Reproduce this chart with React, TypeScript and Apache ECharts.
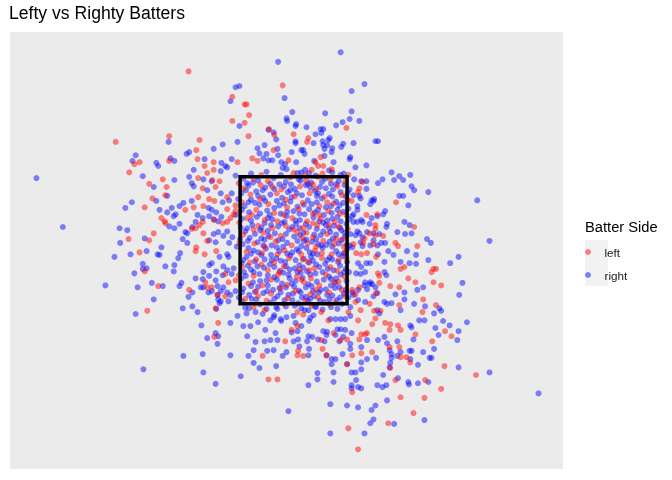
import React, { useEffect, useRef } from "react";
import * as echarts from "echarts";

// pitch locations in feet: [plate_x, plate_z]
const batterSides = ["left", "right"];
const zoneX = [-0.83, 0.83, 0.83, -0.83, -0.83];
const zoneZ = [3.5, 3.5, 1.5, 1.5, 3.5];

const leftPitches = [
  [-2.76, 4.05], [-2.47, 3.7], [-2.39, 3.73], [-2.55, 3.57], [-2.24, 3.39], [-2.31, 3.02], [-2.56, 2.52], [-2.24, 2.5],
  [-2.39, 2.31], [-2.31, 2.01], [-2.27, 1.39],
  [-1.63, 5.16], [-0.17, 4.94], [-0.95, 4.76], [-0.76, 4.64], [-0.73, 4.64], [-0.69, 4.47], [-0.95, 4.38], [-0.76, 4.35],
  [-0.38, 4.25], [-0.3, 4.16], [-0.7, 4.14], [-1.93, 4.14], [-1.46, 4.08], [-1.51, 3.92], [-1.93, 3.75], [-1.49, 3.78],
  [-1.24, 3.73], [-0.87, 3.73], [-0.64, 3.79], [-0.56, 3.75], [-0.31, 3.92], [-0.08, 3.76], [-1.38, 3.67], [-1.24, 3.61],
  [-1.34, 3.56], [-2.03, 3.46], [-1.97, 3.34], [-1.99, 3.21], [-1.48, 3.48], [-1.41, 3.32], [-1.26, 3.45], [-1.15, 3.43],
  [-1.21, 3.34], [-2.19, 3.16], [-1.48, 3.18], [-1.31, 3.15], [-1.23, 3.12], [-1.03, 3.18], [-1.4, 3.04], [-1.55, 3.02],
  [-1.68, 2.98], [-0.9, 3.05], [-1.03, 2.99], [-2.05, 2.85], [-2.0, 2.8], [-1.99, 2.77], [-1.58, 2.68], [-1.52, 2.69],
  [-1.46, 2.74], [-1.41, 2.79], [-1.4, 2.61], [-1.34, 2.49], [-1.51, 2.39], [-1.23, 2.82], [-1.1, 2.77], [-1.03, 2.79],
  [-0.98, 2.85], [-0.93, 2.91], [-0.9, 2.96], [-2.17, 2.61],
  [0.82, 4.27], [0.0, 4.17], [0.23, 4.11], [0.21, 4.05], [0.42, 3.81], [0.34, 3.73], [0.28, 3.61], [0.59, 3.62],
  [0.46, 3.67], [0.38, 3.67], [0.85, 3.53], [0.18, 3.53], [0.38, 3.5], [1.07, 3.42], [1.02, 3.32], [1.0, 3.26],
  [0.9, 3.12], [1.13, 2.9], [1.3, 2.91], [1.27, 2.74], [1.27, 2.68], [1.59, 3.1], [1.87, 2.71], [1.92, 2.41],
  [1.58, 2.46], [1.62, 2.41], [1.1, 2.53], [1.18, 2.61], [1.27, 2.58], [1.39, 2.57], [1.08, 2.46], [1.24, 2.44], [0.93, 2.44],
  [-2.1, 1.78], [-1.62, 1.72], [-1.37, 1.84], [-1.34, 1.76], [-1.27, 1.76], [-1.06, 1.97], [-1.01, 1.84], [-0.9, 1.87],
  [-1.38, 2.28], [-1.52, 2.33], [-1.2, 2.33], [-1.18, 1.64], [-1.21, 1.43], [-1.17, 1.2], [-1.23, 0.98], [-1.06, 1.62],
  [-0.48, 0.68], [-0.39, 0.31], [-0.25, 0.31], [-0.13, 0.91], [-0.45, 1.4],
  [1.0, -0.79], [0.85, -0.46], [1.47, -0.38], [1.86, -0.22], [2.03, 0.02], [1.66, 0.03], [2.04, 0.3], [0.91, 0.11],
  [1.58, 0.3], [1.5, 0.49], [1.66, 0.66], [1.75, 0.66], [1.81, 0.58], [0.91, 0.69], [0.83, 0.55], [0.06, 0.69],
  [0.15, 0.68], [0.07, 0.76], [0.45, 0.79], [0.51, 0.69], [1.05, 0.72], [1.22, 0.74], [1.49, 0.82], [1.64, 0.82],
  [1.49, 1.09], [1.66, 1.09], [1.62, 1.16], [1.89, 1.02], [0.73, 0.93], [0.83, 0.94], [1.02, 0.94], [1.05, 1.02],
  [1.11, 1.02], [1.14, 1.04], [1.22, 1.18], [1.27, 1.27], [1.42, 1.2], [1.5, 1.18], [1.64, 1.48], [2.0, 1.37],
  [2.01, 1.57], [1.64, 1.76], [1.78, 1.9], [1.89, 1.84], [1.66, 2.05], [1.72, 2.08], [1.5, 1.78], [1.33, 1.94],
  [1.33, 1.83], [1.18, 1.5], [1.25, 1.39], [1.35, 1.39], [1.28, 1.67], [1.31, 1.98], [0.97, 2.3], [1.05, 2.28],
  [1.14, 2.3], [1.28, 2.24], [0.96, 1.65], [1.02, 1.76], [0.91, 1.72], [0.96, 1.53], [1.04, 1.4], [1.0, 1.24],
  [0.06, 1.37], [0.43, 1.37], [0.54, 1.24], [0.43, 0.93], [0.62, 1.04], [0.06, 1.15], [0.15, 1.33], [0.85, 1.37], [-0.03, 1.09],
  [2.17, 2.05], [2.21, 2.05], [2.14, 2.0], [2.17, 1.84], [2.29, 1.79], [2.21, 1.48], [2.35, 1.07], [2.45, 0.99],
  [2.15, 0.91], [2.34, 0.52], [2.83, 0.38], [2.29, 0.16],
  // inside the zone
  [-0.62, 3.47], [-0.4, 3.43], [-0.05, 3.49], [0.2, 3.44], [0.57, 3.46], [0.8, 3.42],
  [-0.78, 3.32], [-0.51, 3.37], [-0.19, 3.3], [0.1, 3.35], [0.35, 3.31], [0.68, 3.35],
  [-0.67, 3.22], [-0.26, 3.24], [0.02, 3.19], [0.25, 3.24], [0.48, 3.19], [0.75, 3.21],
  [-0.8, 3.1], [-0.39, 3.07], [-0.1, 3.02], [0.14, 3.09], [0.4, 3.04], [0.62, 3.08],
  [-0.58, 2.98], [-0.3, 2.93], [0.08, 2.99], [0.3, 2.92], [0.54, 2.96], [0.82, 2.9],
  [-0.72, 2.85], [-0.45, 2.82], [-0.02, 2.85], [0.21, 2.8], [0.42, 2.84], [0.64, 2.79],
  [-0.55, 2.73], [-0.33, 2.69], [-0.12, 2.73], [0.15, 2.7], [0.37, 2.74], [0.7, 2.71],
  [-0.78, 2.59], [-0.47, 2.62], [-0.2, 2.57], [0.06, 2.63], [0.3, 2.55], [0.52, 2.6], [0.76, 2.52],
  [-0.61, 2.45], [-0.28, 2.48], [-0.03, 2.42], [0.22, 2.45], [0.46, 2.49], [0.63, 2.44],
  [-0.73, 2.32], [-0.49, 2.3], [-0.14, 2.34], [0.12, 2.28], [0.33, 2.34], [0.59, 2.28], [0.8, 2.31],
  [-0.58, 2.2], [-0.3, 2.15], [-0.07, 2.22], [0.22, 2.16], [0.44, 2.22], [0.7, 2.19],
  [-0.8, 2.08], [-0.4, 2.03], [-0.15, 2.09], [0.09, 2.04], [0.32, 2.06], [0.57, 2.08],
  [-0.62, 1.94], [-0.24, 1.96], [0.05, 1.93], [0.27, 1.9], [0.5, 1.96], [0.79, 1.93],
  [-0.7, 1.82], [-0.48, 1.79], [-0.1, 1.8], [0.16, 1.84], [0.4, 1.79], [0.63, 1.84],
  [-0.58, 1.7], [-0.35, 1.66], [0.03, 1.7], [0.26, 1.65], [0.55, 1.68], [0.8, 1.62],
  [-0.75, 1.58], [-0.42, 1.55], [-0.09, 1.59], [0.18, 1.54], [0.38, 1.6], [0.65, 1.52],
  [-0.5, 3.53], [0.0, 3.56], [0.45, 3.55], [-0.85, 3.4], [-0.33, 3.34], [0.3, 3.38], [0.84, 3.14], [-0.52, 3.14],
  [-0.12, 3.14], [0.52, 3.1], [-0.65, 2.9], [-0.15, 2.9], [0.4, 2.9], [0.72, 2.92], [-0.84, 2.78], [-0.25, 2.8],
  [0.3, 2.77], [0.55, 2.74], [-0.62, 2.67], [0.0, 2.67], [0.2, 2.62], [0.84, 2.68], [-0.36, 2.55], [0.14, 2.54],
  [0.66, 2.52], [-0.84, 2.46], [-0.45, 2.4], [0.35, 2.4], [0.78, 2.4], [-0.25, 2.28], [0.44, 2.3], [-0.68, 2.15],
  [0.14, 2.2], [0.82, 2.22], [-0.5, 2.12], [-0.22, 2.0], [0.24, 2.03], [0.68, 2.02], [-0.85, 1.95], [-0.35, 1.88],
  [0.12, 1.88], [0.7, 1.85], [-0.55, 1.62], [-0.2, 1.75], [0.35, 1.72], [0.75, 1.72], [-0.15, 1.5], [0.28, 1.47],
  [0.55, 1.5], [-0.62, 1.45],
];

const rightPitches = [
  [-2.45, 3.84], [-2.5, 3.75], [-2.34, 3.51], [-3.99, 3.48], [-2.51, 3.1], [-2.61, 3.01], [-3.58, 2.71], [-2.7, 2.69],
  [-2.58, 2.66], [-2.69, 2.46], [-2.31, 2.53],
  [-2.78, 2.24], [-2.53, 2.28], [-2.28, 2.33], [-2.34, 2.13], [-2.34, 2.05], [-2.28, 2.06], [-2.47, 1.98], [-2.92, 1.79],
  [-2.42, 1.76], [-2.45, 1.34], [-2.33, 0.47],
  [-0.24, 5.31], [-0.9, 4.91], [-0.84, 4.93], [-0.14, 4.74], [-0.98, 4.69], [-0.11, 4.42], [-0.1, 4.38], [-0.84, 4.3],
  [-0.39, 4.24], [-0.31, 4.2], [-0.27, 4.09], [-0.87, 4.05], [-1.94, 4.05], [-1.1, 4.01], [-1.24, 3.94], [-1.66, 3.86],
  [-1.62, 3.89], [-1.91, 3.79], [-1.85, 3.75], [-2.13, 3.72], [-2.1, 3.67], [-1.38, 3.78], [-1.12, 3.72], [-0.96, 3.78],
  [-0.45, 4.0], [-0.56, 3.95], [-0.53, 3.87], [-0.47, 3.79], [-0.42, 3.86], [-0.39, 3.76], [-0.33, 3.76], [-0.25, 3.94],
  [-0.24, 3.84], [-0.19, 3.73], [-0.13, 3.7], [-0.11, 3.62], [-0.17, 3.64], [-1.55, 3.61], [-1.13, 3.59], [-1.06, 3.67],
  [-1.03, 3.65], [-1.85, 3.45], [-2.17, 3.34], [-2.13, 3.12], [-1.96, 3.2], [-1.62, 3.5], [-1.55, 3.35], [-1.58, 3.4],
  [-1.4, 3.46], [-1.34, 3.29], [-1.27, 3.43], [-1.13, 3.24], [-1.1, 3.1], [-0.96, 3.24], [-1.0, 3.13], [-1.58, 3.12],
  [-1.71, 3.09], [-1.77, 3.04], [-1.89, 3.01], [-2.08, 2.98], [-1.32, 3.01], [-1.27, 2.98], [-1.2, 2.94], [-1.96, 2.94],
  [-1.83, 2.91], [-1.86, 2.88], [-1.93, 2.72], [-1.85, 2.69], [-1.77, 2.76], [-1.68, 2.63], [-1.65, 2.61], [-1.72, 2.52],
  [-1.65, 2.46], [-1.52, 2.79], [-1.57, 2.71], [-1.49, 2.9], [-1.41, 2.85], [-1.31, 2.88], [-1.24, 2.83], [-1.17, 2.8],
  [-1.12, 2.87], [-1.24, 2.6], [-1.17, 2.63], [-1.09, 2.57], [-1.03, 2.64], [-0.95, 2.55], [-1.0, 2.46], [-1.21, 2.47],
  [-1.31, 2.5], [-2.05, 2.39],
  [0.73, 5.46], [1.1, 4.96], [0.9, 4.85], [0.9, 4.53], [1.02, 4.38], [0.87, 4.41], [0.76, 4.36], [0.66, 4.31],
  [0.49, 4.5], [-0.02, 4.52], [0.03, 4.3], [0.04, 4.33], [0.2, 4.28], [0.42, 4.25], [0.46, 4.25], [0.43, 4.19],
  [0.34, 4.17], [0.03, 4.06], [0.03, 4.03], [0.31, 4.03], [0.45, 4.06], [0.46, 4.0], [0.52, 4.0], [0.56, 4.11],
  [0.54, 4.08], [0.93, 4.03], [0.77, 4.02], [0.74, 3.97], [0.6, 3.95], [0.59, 3.89], [0.48, 3.94], [1.27, 4.06],
  [1.31, 4.06], [0.12, 3.92], [0.15, 3.92], [0.17, 3.86], [-0.03, 3.89], [0.04, 3.73], [0.32, 3.75], [0.48, 3.83],
  [0.62, 3.73], [0.88, 3.81], [0.87, 3.78], [0.96, 3.65], [1.13, 3.68], [0.18, 3.61], [0.24, 3.56], [0.06, 3.56],
  [0.6, 3.57], [0.73, 3.53], [0.94, 3.46], [1.05, 3.43], [1.13, 3.43], [1.13, 3.31], [1.02, 3.2], [1.04, 3.16],
  [0.93, 3.21], [1.21, 3.13], [1.24, 3.12], [1.25, 3.15], [1.19, 3.07], [0.99, 3.04], [0.99, 2.98], [0.93, 2.91],
  [0.91, 2.88], [1.07, 2.79], [1.05, 2.82], [0.99, 2.79], [0.93, 2.79], [1.21, 2.85], [1.18, 2.76], [1.3, 2.88],
  [1.42, 2.96], [1.39, 2.91], [1.45, 2.76], [1.44, 2.71], [1.31, 3.4], [1.38, 3.46], [1.52, 3.57], [1.56, 3.45],
  [1.64, 3.51], [1.7, 3.45], [1.81, 3.53], [1.83, 3.35], [1.87, 3.29], [1.64, 3.2], [1.7, 3.2], [1.78, 3.05],
  [2.09, 3.26], [1.72, 2.79], [1.8, 2.74], [1.61, 2.63], [1.73, 2.6], [1.83, 2.61], [2.07, 2.52], [1.02, 2.61],
  [0.99, 2.64], [0.96, 2.58], [1.07, 2.55], [1.14, 2.63], [1.24, 2.61], [1.33, 2.6], [1.24, 2.5], [1.36, 2.46],
  [1.42, 2.46], [1.3, 2.42], [1.19, 2.42], [1.04, 2.47], [1.07, 2.41], [0.87, 2.42], [0.91, 2.39],
  [2.85, 3.13], [3.04, 2.49], [2.13, 2.46],
  [-1.99, 2.09], [-1.85, 2.11], [-1.86, 2.01], [-1.79, 2.22], [-1.76, 2.3], [-2.11, 2.28], [-2.08, 2.27], [-2.2, 1.83],
  [-2.03, 1.78], [-1.77, 1.78], [-1.74, 1.83], [-2.17, 1.57], [-1.72, 1.43], [-1.63, 1.61], [-1.57, 1.68], [-1.57, 1.46],
  [-1.49, 1.37], [-1.52, 1.9], [-1.41, 1.89], [-1.4, 2.0], [-1.31, 1.94], [-1.27, 2.14], [-1.31, 2.11], [-1.21, 1.87],
  [-1.2, 2.01], [-1.15, 2.24], [-1.09, 2.09], [-1.1, 1.95], [-1.03, 2.03], [-0.96, 1.97], [-0.93, 2.06], [-1.01, 2.24],
  [-1.03, 2.28], [-1.44, 1.76], [-1.4, 1.76], [-1.32, 1.68], [-1.27, 1.7], [-1.18, 1.78], [-1.13, 1.7], [-1.09, 1.76],
  [-1.03, 1.68], [-0.98, 1.64], [-0.9, 1.7], [-1.18, 1.64], [-1.17, 1.57], [-1.13, 1.54], [-1.15, 1.51], [-1.01, 1.54],
  [-1.2, 1.42], [-1.43, 1.16], [-1.34, 0.96], [-1.21, 1.04], [-1.17, 0.99], [-1.18, 0.87], [-0.98, 1.2], [-0.87, 1.31],
  [-0.78, 1.15], [-0.67, 1.15], [-0.72, 0.99], [-0.59, 0.9], [-0.62, 0.77], [-0.7, 0.68], [-0.62, 0.57], [-0.53, 0.49],
  [-0.98, 0.69], [-0.82, 0.36], [-1.21, 0.24], [-1.4, 0.42], [-1.41, 0.71], [-1.71, 0.68], [-0.73, 1.35], [-0.69, 1.43],
  [-0.59, 1.37], [-0.55, 1.21], [-0.48, 1.34], [-0.44, 1.09], [-0.45, 0.91], [-0.36, 0.93], [-0.25, 0.93], [-0.27, 0.52],
  [-0.28, 1.04], [-0.41, 0.76], [-0.31, 0.77], [-0.17, 0.68], [-0.11, 0.74], [-0.08, -0.19], [-0.36, 1.24], [-0.31, 1.29],
  [-0.3, 1.32], [-0.25, 1.42], [-0.2, 1.26], [-0.19, 1.23], [-0.11, 1.29],
  [0.57, -0.54], [1.1, -0.54], [0.57, -0.08], [0.83, -0.1], [1.0, -0.13], [1.21, -0.17], [1.27, -0.1], [1.24, -0.32],
  [1.19, -0.38], [1.56, -0.39], [2.03, -0.33], [1.45, -0.02], [0.23, 0.22], [0.9, 0.22], [0.9, 0.17], [1.05, 0.17],
  [1.0, 0.19], [1.3, 0.22], [1.38, 0.19], [1.44, 0.22], [1.62, 0.33], [1.78, 0.27], [1.79, 0.23], [1.93, 0.25],
  [2.09, 0.27], [0.37, 0.41], [0.37, 0.31], [0.62, 0.42], [0.62, 0.27], [0.9, 0.42], [0.96, 0.42], [0.97, 0.3],
  [1.05, 0.47], [1.39, 0.38], [1.49, 0.5], [1.5, 0.57], [1.52, 0.71], [1.52, 0.65], [1.61, 0.68], [1.66, 0.74],
  [1.8, 0.76], [1.81, 0.63], [1.93, 0.54], [2.01, 0.74], [2.11, 0.65], [0.83, 0.55], [1.05, 0.58], [1.14, 0.63],
  [1.28, 0.65], [0.76, 0.71], [0.59, 0.63], [0.59, 0.55], [0.65, 0.63], [0.51, 0.69], [0.23, 0.69], [0.24, 0.79],
  [0.09, 0.83], [0.88, 0.79], [0.88, 0.87], [1.05, 0.82], [1.14, 0.93], [1.31, 0.93], [1.41, 0.98], [1.45, 0.88],
  [1.49, 0.77], [1.61, 0.91], [1.86, 0.94], [1.83, 0.76], [1.81, 1.16], [1.83, 1.13], [1.87, 1.5], [1.95, 1.24],
  [2.03, 1.24], [2.04, 1.46], [2.09, 2.19], [1.66, 1.4], [1.72, 1.57], [1.58, 1.65], [1.72, 1.68], [1.92, 1.72],
  [2.01, 1.76], [1.41, 1.53], [1.52, 1.51], [1.45, 1.5], [1.33, 1.35], [1.3, 1.4], [1.41, 2.16], [1.55, 2.27],
  [1.66, 2.16], [1.8, 2.14], [1.9, 2.13], [1.9, 2.27], [1.76, 2.33], [1.47, 2.33], [1.31, 2.28], [1.41, 2.0],
  [1.44, 1.95], [1.19, 2.14], [1.13, 2.14], [1.0, 2.14], [1.05, 2.08], [1.22, 1.81], [1.3, 1.67], [1.1, 1.79],
  [1.11, 1.84], [1.19, 1.84], [1.27, 1.76], [1.0, 1.72], [0.91, 1.68], [0.93, 1.64], [0.97, 1.98], [1.04, 1.97],
  [1.11, 2.0], [1.18, 1.81], [1.14, 1.73], [1.24, 1.62], [1.0, 1.56], [1.11, 1.53],
  [0.17, 1.4], [0.23, 1.4], [0.35, 1.45], [0.26, 1.28], [0.0, 1.31], [0.03, 1.2], [0.12, 1.15], [0.24, 1.23],
  [0.31, 1.32], [0.57, 1.26], [0.65, 1.26], [0.73, 1.26], [0.8, 1.26], [0.88, 1.31], [0.52, 1.06], [0.68, 1.1],
  [0.46, 1.07], [0.51, 1.01], [0.65, 1.01], [0.73, 1.1], [0.8, 1.09], [0.9, 1.04], [0.77, 0.98], [0.71, 0.91],
  [0.48, 0.91], [0.38, 0.94], [0.29, 0.98], [0.23, 0.99], [0.21, 0.91], [0.07, 0.94], [0.0, 0.91], [-0.03, 1.05], [0.06, 1.07],
  [2.56, 2.24], [2.43, 2.14], [2.62, 1.83], [2.57, 1.64], [2.26, 1.43], [2.29, 1.39], [2.18, 1.35], [2.69, 1.21],
  [2.32, 1.23], [2.42, 1.16], [2.2, 1.12], [2.25, 1.01], [2.56, 1.07], [2.54, 0.93], [2.18, 0.79], [2.14, 0.65],
  [2.56, 0.5], [3.04, 0.42], [3.8, 0.09],
  // inside the zone
  [-0.78, 3.47], [-0.55, 3.44], [-0.31, 3.48], [-0.12, 3.42], [0.08, 3.46], [0.27, 3.41], [0.49, 3.47], [0.7, 3.43],
  [-0.7, 3.36], [-0.44, 3.33], [-0.22, 3.38], [0.02, 3.31], [0.19, 3.37], [0.41, 3.34], [0.61, 3.3], [0.79, 3.37],
  [-0.81, 3.24], [-0.58, 3.27], [-0.36, 3.22], [-0.09, 3.26], [0.13, 3.21], [0.33, 3.28], [0.55, 3.23], [0.73, 3.26],
  [-0.66, 3.14], [-0.47, 3.17], [-0.26, 3.12], [-0.03, 3.18], [0.22, 3.13], [0.44, 3.16], [0.66, 3.11], [0.81, 3.19],
  [-0.76, 3.04], [-0.53, 3.06], [-0.3, 3.01], [-0.15, 3.08], [0.06, 3.03], [0.28, 3.07], [0.5, 3.02], [0.71, 3.05],
  [-0.69, 2.94], [-0.41, 2.97], [-0.2, 2.92], [0.0, 2.96], [0.17, 2.91], [0.38, 2.98], [0.59, 2.93], [0.77, 2.95],
  [-0.8, 2.84], [-0.57, 2.87], [-0.33, 2.83], [-0.11, 2.88], [0.1, 2.82], [0.31, 2.86], [0.52, 2.81], [0.68, 2.87],
  [-0.64, 2.74], [-0.45, 2.77], [-0.24, 2.72], [0.04, 2.76], [0.24, 2.71], [0.46, 2.78], [0.63, 2.73], [0.82, 2.76],
  [-0.75, 2.64], [-0.52, 2.66], [-0.29, 2.61], [-0.07, 2.67], [0.15, 2.62], [0.36, 2.68], [0.57, 2.63], [0.74, 2.66],
  [-0.68, 2.54], [-0.39, 2.57], [-0.17, 2.52], [0.01, 2.56], [0.2, 2.51], [0.42, 2.58], [0.61, 2.53], [0.8, 2.56],
  [-0.79, 2.44], [-0.56, 2.47], [-0.34, 2.42], [-0.1, 2.46], [0.12, 2.41], [0.29, 2.48], [0.51, 2.43], [0.7, 2.45],
  [-0.62, 2.34], [-0.43, 2.37], [-0.22, 2.33], [0.05, 2.36], [0.25, 2.31], [0.45, 2.38], [0.66, 2.33], [0.83, 2.36],
  [-0.73, 2.24], [-0.5, 2.27], [-0.27, 2.22], [-0.05, 2.26], [0.16, 2.21], [0.37, 2.28], [0.56, 2.23], [0.76, 2.25],
  [-0.81, 2.14], [-0.6, 2.17], [-0.37, 2.12], [-0.13, 2.16], [0.09, 2.11], [0.3, 2.18], [0.49, 2.13], [0.69, 2.16],
  [-0.66, 2.04], [-0.46, 2.07], [-0.21, 2.02], [0.02, 2.06], [0.21, 2.01], [0.4, 2.08], [0.62, 2.03], [0.81, 2.05],
  [-0.74, 1.94], [-0.53, 1.97], [-0.3, 1.92], [-0.08, 1.96], [0.14, 1.91], [0.34, 1.98], [0.55, 1.93], [0.73, 1.96],
  [-0.63, 1.84], [-0.42, 1.87], [-0.18, 1.82], [0.03, 1.86], [0.23, 1.81], [0.47, 1.88], [0.65, 1.83], [0.82, 1.86],
  [-0.78, 1.74], [-0.55, 1.77], [-0.32, 1.72], [-0.12, 1.76], [0.08, 1.71], [0.28, 1.78], [0.5, 1.73], [0.71, 1.76],
  [-0.69, 1.64], [-0.47, 1.67], [-0.25, 1.62], [-0.01, 1.66], [0.19, 1.61], [0.39, 1.68], [0.6, 1.63], [0.78, 1.66],
  [-0.8, 1.54], [-0.58, 1.57], [-0.36, 1.52], [-0.14, 1.56], [0.07, 1.51], [0.26, 1.58], [0.48, 1.53], [0.67, 1.56],
  [-0.72, 3.4], [-0.48, 3.29], [-0.15, 3.35], [0.11, 3.44], [0.36, 3.2], [0.58, 3.39], [0.77, 3.09], [-0.6, 3.09],
  [-0.37, 2.9], [-0.05, 3.11], [0.24, 2.99], [0.47, 2.9], [0.73, 2.8], [-0.82, 2.7], [-0.5, 2.7], [-0.14, 2.79],
  [0.09, 2.69], [0.32, 2.59], [0.55, 2.69], [0.79, 2.62], [-0.71, 2.49], [-0.45, 2.51], [-0.26, 2.39], [0.16, 2.49],
  [0.38, 2.44], [0.6, 2.4], [0.78, 2.3], [-0.66, 2.29], [-0.34, 2.19], [-0.02, 2.31], [0.27, 2.24], [0.52, 2.19],
  [0.72, 2.1], [-0.77, 2.0], [-0.56, 2.09], [-0.12, 2.09], [0.11, 1.99], [0.45, 2.0], [0.66, 1.9], [-0.4, 1.79],
  [-0.06, 1.9], [0.3, 1.7], [0.58, 1.79], [0.81, 1.72], [-0.6, 1.69], [-0.2, 1.68], [0.13, 1.6], [0.41, 1.55],
  [0.75, 1.5], [-0.85, 1.6], [-0.52, 1.49], [-0.27, 1.45], [0.02, 1.47], [0.33, 1.46], [0.58, 1.45], [-0.88, 2.4],
  [-0.9, 2.9], [0.88, 2.6], [0.87, 3.3], [0.86, 2.0],
  [-0.66, 3.55], [-0.42, 3.58], [-0.2, 3.53], [0.12, 3.57], [0.34, 3.52], [0.55, 3.6], [0.78, 3.55], [-0.9, 3.52],
  [-0.63, 3.41], [-0.36, 3.39], [-0.04, 3.38], [0.22, 3.39], [0.44, 3.42], [0.66, 3.38],
  [-0.74, 3.29], [-0.3, 3.31], [-0.05, 3.29], [0.26, 3.33], [0.5, 3.32], [0.84, 3.25],
  [-0.55, 3.2], [-0.18, 3.17], [0.05, 3.24], [0.38, 3.24], [0.6, 3.19], [-0.86, 3.15],
  [-0.7, 3.1], [-0.44, 3.12], [-0.22, 3.05], [0.16, 3.06], [0.36, 3.1], [0.58, 3.04], [0.85, 3.0],
  [-0.8, 2.98], [-0.52, 2.92], [-0.1, 2.95], [0.09, 2.92], [0.33, 2.94], [0.68, 2.98],
  [-0.66, 2.81], [-0.4, 2.85], [-0.18, 2.77], [0.03, 2.81], [0.4, 2.8], [0.6, 2.84], [0.86, 2.83],
  [-0.72, 2.69], [-0.35, 2.74], [-0.02, 2.71], [0.19, 2.76], [0.5, 2.74], [0.72, 2.7],
  [-0.6, 2.6], [-0.4, 2.65], [-0.12, 2.6], [0.1, 2.58], [0.46, 2.64], [0.66, 2.59],
  [-0.83, 2.52], [-0.5, 2.53], [-0.24, 2.5], [0.06, 2.49], [0.35, 2.52], [0.56, 2.48], [0.74, 2.5],
  [-0.7, 2.38], [-0.47, 2.42], [-0.16, 2.4], [0.2, 2.38], [0.43, 2.42], [0.82, 2.43],
  [-0.55, 2.31], [-0.35, 2.27], [-0.1, 2.29], [0.08, 2.33], [0.3, 2.29], [0.7, 2.28],
  [-0.78, 2.19], [-0.45, 2.2], [-0.2, 2.18], [0.03, 2.19], [0.24, 2.15], [0.6, 2.2], [0.83, 2.16],
  [-0.71, 2.1], [-0.3, 2.08], [-0.06, 2.04], [0.15, 2.07], [0.35, 2.12], [0.53, 2.05],
  [-0.62, 2.0], [-0.4, 1.95], [-0.16, 1.99], [0.06, 2.0], [0.26, 1.96], [0.78, 2.0],
  [-0.81, 1.9], [-0.52, 1.86], [-0.26, 1.88], [-0.03, 1.82], [0.36, 1.85], [0.58, 1.89],
  [-0.66, 1.78], [-0.22, 1.75], [0.01, 1.77], [0.19, 1.76], [0.42, 1.72], [0.64, 1.75],
  [-0.8, 1.68], [-0.41, 1.7], [-0.08, 1.64], [0.11, 1.68], [0.32, 1.62], [0.52, 1.64], [0.85, 1.6],
  [-0.65, 1.58], [-0.3, 1.58], [-0.02, 1.56], [0.22, 1.55], [0.56, 1.57], [0.72, 1.6],
  [-0.75, 1.44], [-0.42, 1.42], [-0.12, 1.46], [0.12, 1.43], [0.45, 1.41], [0.68, 1.42], [0.88, 1.45],
];

const FONT = "'Liberation Sans', Arial, sans-serif";

const App = () => {
  const chartRef = useRef<HTMLDivElement>(null);

  useEffect(() => {
    const chart = echarts.init(chartRef.current, null, { renderer: "svg" });

    chart.setOption({
      animation: false,
      title: {
        text: "Lefty vs Righty Batters",
        left: 9,
        top: 4,
        padding: 0,
        textStyle: { fontFamily: FONT, fontSize: 17.6, fontWeight: "normal", color: "#000" },
      },
      grid: {
        left: 10,
        top: 32,
        right: 109,
        bottom: 11,
        show: true,
        backgroundColor: "#EBEBEB",
        borderWidth: 0,
      },
      xAxis: { type: "value", min: -4.4, max: 4.18, show: false },
      yAxis: { type: "value", min: -1.1, max: 5.78, show: false },
      legend: {
        data: batterSides,
        orient: "vertical",
        left: 585,
        top: 246,
        padding: 0,
        icon: "circle",
        itemWidth: 23,
        itemHeight: 6,
        itemGap: 11,
        textStyle: { fontFamily: FONT, fontSize: 11.7, lineHeight: 12, color: "#1a1a1a" },
      },
      graphic: [
        {
          type: "rect",
          left: 585,
          top: 240,
          shape: { width: 23, height: 46 },
          style: { fill: "#F2F2F2" },
          silent: true,
        },
        {
          type: "text",
          left: 585,
          top: 219,
          style: { text: "Batter Side", font: `14.7px ${FONT}`, fill: "#000" },
        },
      ],
      series: [
        {
          name: "right",
          type: "scatter",
          data: rightPitches,
          symbolSize: 6,
          itemStyle: { color: "rgba(0,0,255,0.6)" },
          z: 2,
        },
        {
          name: "left",
          type: "scatter",
          data: leftPitches,
          symbolSize: 6,
          itemStyle: { color: "rgba(255,0,0,0.6)" },
          z: 3,
        },
        {
          type: "line",
          data: zoneX.map((x, i) => [x, zoneZ[i]]),
          symbol: "none",
          silent: true,
          lineStyle: { color: "#000", width: 3.5, cap: "square", join: "miter" },
          z: 5,
        },
      ],
    });

    return () => chart.dispose();
  }, []);

  return (
    <div
      ref={chartRef}
      style={{ position: "fixed", left: 0, top: 0, width: 672, height: 480 }}
    />
  );
};

export default App;
